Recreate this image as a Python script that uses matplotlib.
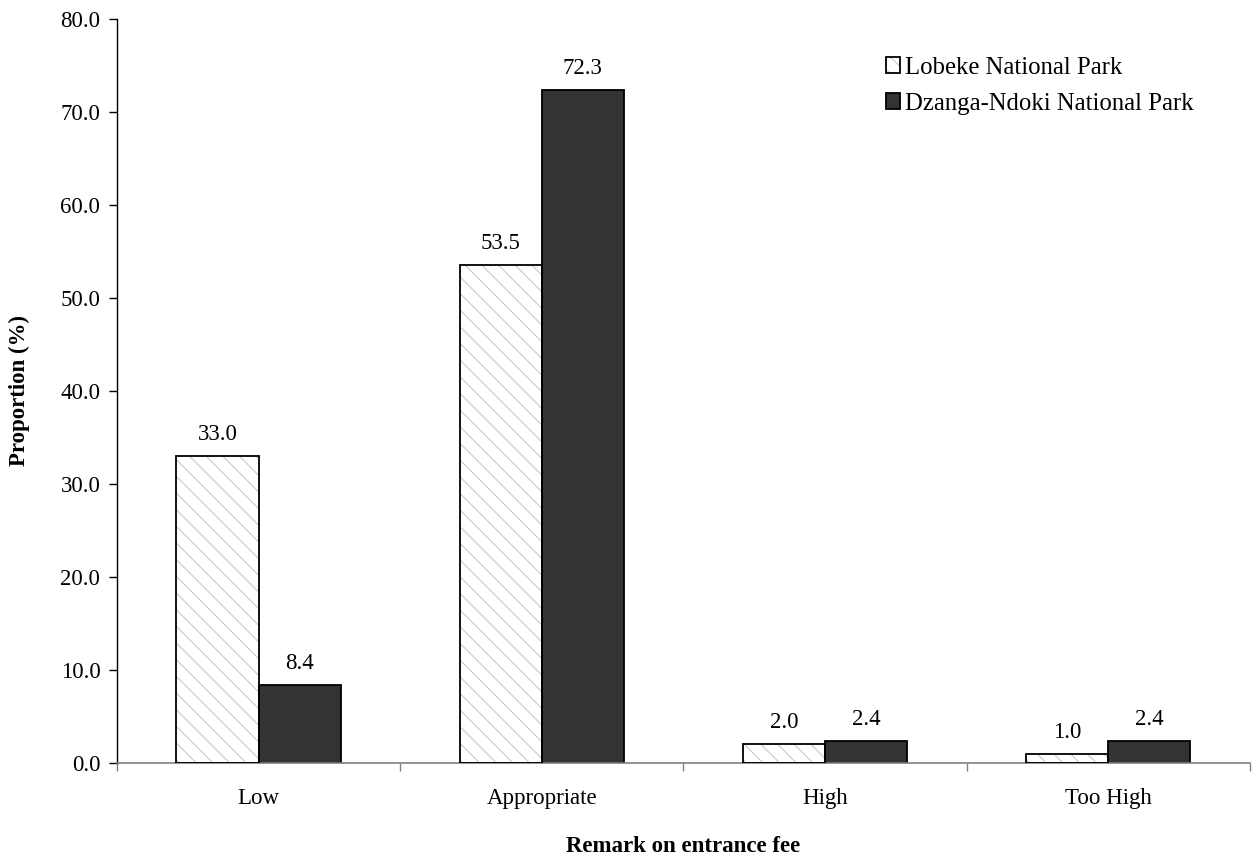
import numpy as np
import matplotlib
matplotlib.use("Agg")
import matplotlib.pyplot as plt

categories = ["Low", "Appropriate", "High", "Too High"]
lobeke = [33.0, 53.5, 2.0, 1.0]
dzanga = [8.4, 72.3, 2.4, 2.4]
series_names = ["Lobeke National Park", "Dzanga-Ndoki National Park"]
yticks = [0, 10, 20, 30, 40, 50, 60, 70, 80]

plt.rcParams["font.family"] = ["Liberation Serif", "DejaVu Serif"]
plt.rcParams["hatch.linewidth"] = 0.7

fig = plt.figure(figsize=(12.58, 8.56), dpi=100)
ax = fig.add_axes([0.093, 0.1086, 0.9006, 0.8694])

fs = 16.5
x = np.arange(len(categories))
w = 0.29
# light hatched fill, then a black outline on top
b1_fill = ax.bar(x - w / 2, lobeke, w, facecolor="white", edgecolor="#c2c2c2",
                 linewidth=0, hatch="\\\\", zorder=2)
b1 = ax.bar(x - w / 2, lobeke, w, fill=False, edgecolor="black",
            linewidth=1.3, zorder=3)
b2 = ax.bar(x + w / 2, dzanga, w, facecolor="#333333", edgecolor="black",
            linewidth=1.3, zorder=2)

for bars, vals in ((b1, lobeke), (b2, dzanga)):
    for rect, v in zip(bars, vals):
        ax.annotate(f"{v:.1f}", (rect.get_x() + rect.get_width() / 2, v),
                    xytext=(0, 8), textcoords="offset points",
                    ha="center", va="bottom", fontsize=fs)

ax.set_xlim(-0.5, len(categories) - 0.5)
ax.set_ylim(0, 80)
ax.set_yticks(yticks)
ax.set_yticklabels([f"{t:.1f}" for t in yticks], fontsize=fs)
ax.set_xticks(x)
ax.set_xticklabels(categories, fontsize=fs)
ax.tick_params(axis="x", length=0, pad=18)
ax.set_xticks(np.arange(len(categories) + 1) - 0.5, minor=True)
ax.tick_params(axis="x", which="minor", length=6, color="#808080", width=1)
ax.tick_params(axis="y", length=6, width=1, direction="out", pad=6)

for s in ("top", "right"):
    ax.spines[s].set_visible(False)
ax.spines["left"].set_color("black")
ax.spines["bottom"].set_color("#808080")
ax.spines["left"].set_linewidth(1)
ax.spines["bottom"].set_linewidth(1.2)

ax.set_ylabel("Proportion (%)", fontsize=fs, fontweight="bold", labelpad=22)
ax.set_xlabel("Remark on entrance fee", fontsize=fs, fontweight="bold")
ax.xaxis.set_label_coords(0.5, -0.112)
ax.xaxis.label.set_verticalalignment("center")

ax.legend([(b1_fill, b1), b2], series_names,
          loc="upper right", bbox_to_anchor=(0.9594, 0.962), frameon=False,
          fontsize=17.8, handlelength=0.6, handleheight=0.6, handletextpad=0.2,
          labelspacing=0.55, borderaxespad=0)

fig.savefig("out.png", dpi=100)
